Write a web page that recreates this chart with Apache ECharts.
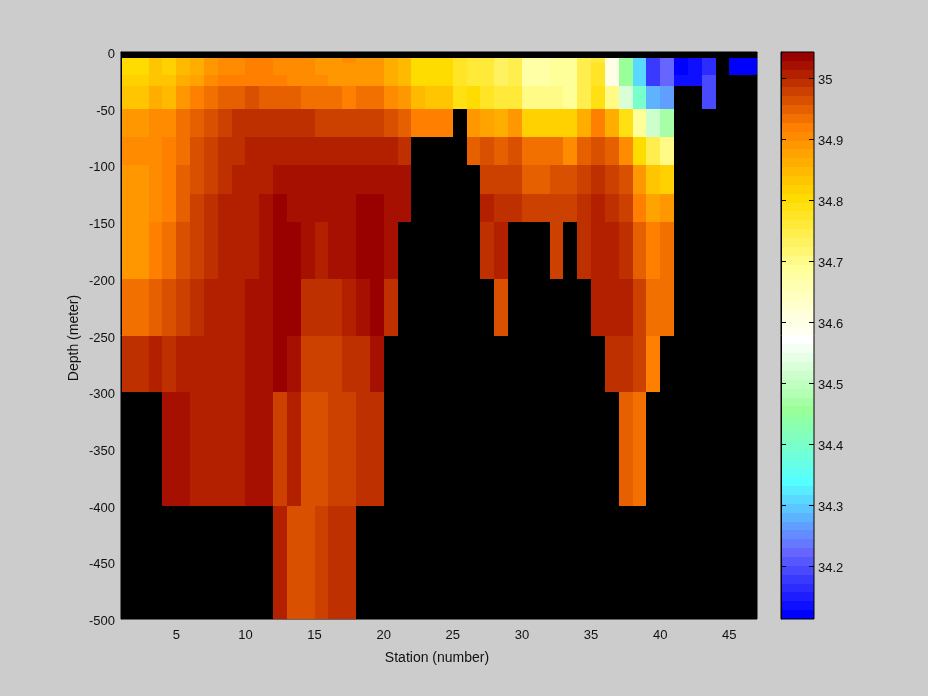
<!DOCTYPE html>
<html>
<head>
<meta charset="utf-8">
<style>html,body{margin:0;padding:0;background:#ccc}#c{width:928px;height:696px}</style>
<script src="https://cdn.jsdelivr.net/npm/echarts@6/dist/echarts.min.js"></script>
</head>
<body>
<div id="c"></div>
<script>
const _ = null;
const stationTicks = [5,10,15,20,25,30,35,40,45];
const colorTicks = [34.2,34.3,34.4,34.5,34.6,34.7,34.8,34.9,35];
const stationRange = [1,47];
const depthRange = [-500,0];
const salinityRange = [34.1136,35.0431];
const depthEdges = [-5,-10,-20,-30,-50,-75,-100,-125,-150,-200,-250,-300,-400,-500];
const d5_10 = [34.804,34.804,34.833,34.818,34.847,34.862,34.891,34.905,34.905,34.920,34.920,34.905,34.905,34.905,34.891,34.891,34.905,34.891,34.891,34.862,34.847,34.804,34.804,34.804,34.775,34.760,34.760,34.731,34.745,34.673,34.673,34.687,34.687,34.745,34.760,34.600,34.455,34.310,34.179,34.223,34.121,34.135,34.165,_,34.121,34.121];
const d10_20 = [34.804,34.804,34.833,34.818,34.847,34.862,34.891,34.905,34.905,34.920,34.920,34.905,34.905,34.905,34.891,34.891,34.891,34.891,34.891,34.862,34.847,34.804,34.804,34.804,34.775,34.760,34.760,34.731,34.745,34.673,34.673,34.687,34.687,34.745,34.775,34.600,34.455,34.310,34.179,34.223,34.121,34.135,34.165,_,34.121,34.121];
const d20_30 = [34.818,34.818,34.833,34.833,34.862,34.876,34.905,34.920,34.920,34.920,34.920,34.920,34.905,34.905,34.905,34.891,34.891,34.891,34.891,34.862,34.847,34.804,34.804,34.804,34.775,34.760,34.760,34.731,34.745,34.673,34.673,34.687,34.687,34.745,34.775,34.600,34.455,34.310,34.179,34.223,34.135,34.135,34.194,_,_,_];
const d30_50 = [34.833,34.833,34.862,34.847,34.891,34.920,34.934,34.949,34.949,34.963,34.949,34.949,34.949,34.934,34.934,34.934,34.920,34.934,34.934,34.905,34.891,34.847,34.833,34.833,34.789,34.804,34.775,34.760,34.760,34.702,34.702,34.702,34.687,34.745,34.789,34.702,34.527,34.397,34.281,34.266,_,_,34.194,_,_,_];
const d50_75 = [34.891,34.891,34.905,34.905,34.934,34.949,34.963,34.978,34.992,34.992,34.992,34.992,34.992,34.992,34.978,34.978,34.978,34.978,34.978,34.963,34.949,34.920,34.920,34.920,_,34.891,34.876,34.862,34.891,34.818,34.818,34.818,34.818,34.862,34.920,34.862,34.789,34.687,34.513,34.469,_,_,_,_,_,_];
const d75_100 = [34.905,34.905,34.905,34.920,34.934,34.963,34.978,34.992,34.992,35.007,35.007,35.007,35.007,35.007,35.007,35.007,35.007,35.007,35.007,35.007,34.992,_,_,_,_,34.949,34.963,34.949,34.963,34.934,34.934,34.934,34.905,34.949,34.963,34.949,34.905,34.804,34.745,34.702,_,_,_,_,_,_];
const d100_125 = [34.891,34.891,34.905,34.920,34.949,34.963,34.978,34.992,35.007,35.007,35.007,35.021,35.021,35.021,35.021,35.021,35.021,35.021,35.021,35.021,35.021,_,_,_,_,_,34.978,34.978,34.978,34.949,34.949,34.963,34.963,34.978,34.992,34.978,34.963,34.891,34.833,34.818,_,_,_,_,_,_];
const d125_150 = [34.891,34.891,34.905,34.920,34.949,34.978,34.992,35.007,35.007,35.007,35.021,35.036,35.021,35.021,35.021,35.021,35.021,35.036,35.036,35.021,35.021,_,_,_,_,_,35.007,34.992,34.992,34.978,34.978,34.978,34.978,34.992,35.007,34.992,34.978,34.920,34.876,34.891,_,_,_,_,_,_];
const d150_200 = [34.891,34.891,34.920,34.934,34.963,34.978,34.992,35.007,35.007,35.007,35.021,35.036,35.036,35.021,35.007,35.021,35.021,35.036,35.036,35.021,_,_,_,_,_,_,34.992,35.007,_,_,_,34.978,_,34.992,35.007,35.007,34.992,34.949,34.920,34.934,_,_,_,_,_,_];
const d200_250 = [34.934,34.934,34.949,34.963,34.978,34.992,35.007,35.007,35.007,35.021,35.021,35.036,35.036,34.992,34.992,34.992,35.007,35.021,35.036,34.992,_,_,_,_,_,_,_,34.963,_,_,_,_,_,_,35.007,35.007,35.007,34.978,34.934,34.934,_,_,_,_,_,_];
const d250_300 = [34.992,34.992,35.007,34.992,35.007,35.007,35.007,35.007,35.007,35.021,35.021,35.036,35.021,34.978,34.978,34.978,34.992,34.992,35.021,_,_,_,_,_,_,_,_,_,_,_,_,_,_,_,_,34.992,34.992,34.978,34.920,_,_,_,_,_,_,_];
const d300_400 = [_,_,_,35.021,35.021,35.007,35.007,35.007,35.007,35.021,35.021,34.978,35.007,34.963,34.963,34.978,34.978,34.992,34.992,_,_,_,_,_,_,_,_,_,_,_,_,_,_,_,_,_,34.949,34.934,_,_,_,_,_,_,_,_];
const d400_500 = [_,_,_,_,_,_,_,_,_,_,_,35.007,34.963,34.963,34.978,34.992,34.992,_,_,_,_,_,_,_,_,_,_,_,_,_,_,_,_,_,_,_,_,_,_,_,_,_,_,_,_,_];
const salinityRows = [d5_10,d10_20,d20_30,d30_50,d50_75,d75_100,d100_125,d125_150,d150_200,d200_250,d250_300,d300_400,d400_500];
const colorAnchors = [[153,0,0],[255,128,0],[255,220,0],[255,255,153],[255,255,255],[153,255,153],[85,255,255],[102,102,255]];
const colorEnd = [0,0,255];
const LEVELS = 64;

const palette = [];
for (let k = 0; k < LEVELS; k++) {
  const seg = Math.min(Math.floor(k / 8), 7), t = (k - seg * 8) / (seg === 7 ? 7 : 8);
  const a = colorAnchors[seg], b = seg === 7 ? colorEnd : colorAnchors[seg + 1];
  palette.push('rgb(' + a.map((c, i) => Math.round(c + (b[i] - c) * t)).join(',') + ')');
}
const step = (salinityRange[1] - salinityRange[0]) / LEVELS;
const colorOf = v => palette[Math.max(0, Math.min(LEVELS - 1, Math.floor((salinityRange[1] - v) / step)))];

const cells = [];
salinityRows.forEach((row, r) => row.forEach((v, c) => {
  if (v !== null) cells.push([c + 1, c + 2, depthEdges[r], depthEdges[r + 1], v]);
}));
const barCells = palette.map((_c, k) => [0, 1, salinityRange[1] - k * step, salinityRange[1] - (k + 1) * step, salinityRange[1] - (k + .5) * step]);

const renderRect = (params, api) => {
  const p0 = api.coord([api.value(0), api.value(2)]);
  const p1 = api.coord([api.value(1), api.value(3)]);
  const x = Math.round(p0[0]), y = Math.round(p0[1]);
  return {
    type: 'rect',
    shape: { x, y, width: Math.round(p1[0]) - x, height: Math.round(p1[1]) - y },
    style: { fill: colorOf(api.value(4)), stroke: null }
  };
};

const TICK_LEN = 5;
const renderBarTick = (params, api) => {
  const l = api.coord([0, api.value(0)]), r = api.coord([1, api.value(0)]);
  const y = Math.round(l[1]) + 0.5;
  const seg = (x1, x2) => ({ type: 'line', shape: { x1, y1: y, x2, y2: y }, style: { stroke: '#000', lineWidth: 1 } });
  return { type: 'group', children: [seg(l[0], l[0] + TICK_LEN), seg(r[0] - TICK_LEN, r[0])] };
};

const font = { fontFamily: '"Liberation Sans", Arial, sans-serif', fontSize: 13, color: '#111' };
const nameFont = { fontFamily: '"Liberation Sans", Arial, sans-serif', fontSize: 14, color: '#111' };
const line = { show: true, lineStyle: { color: '#000', width: 1 } };
const chart = echarts.init(document.getElementById('c'), null, { renderer: 'canvas' });
chart.setOption({
  backgroundColor: '#cccccc',
  animation: false,
  grid: [
    { left: 121, right: 171, top: 52, bottom: 77, show: true, backgroundColor: '#000', borderColor: '#000', borderWidth: 1 },
    { left: 781, right: 114, top: 52, bottom: 77, show: true, backgroundColor: 'transparent', borderColor: '#000', borderWidth: 1, z: 5 }
  ],
  xAxis: [
    { gridIndex: 0, type: 'value', min: stationRange[0], max: stationRange[1], z: 5,
      name: 'Station (number)', nameLocation: 'middle', nameGap: 32,
      nameTextStyle: Object.assign({ padding: [0, 4, 0, 0] }, nameFont),
      axisLine: line, axisTick: { show: false }, splitLine: { show: false },
      axisLabel: Object.assign({ customValues: stationTicks, margin: 10 }, font) },
    { gridIndex: 1, type: 'value', min: 0, max: 1, axisLine: { show: false }, axisTick: { show: false }, axisLabel: { show: false }, splitLine: { show: false } }
  ],
  yAxis: [
    { gridIndex: 0, type: 'value', min: depthRange[0], max: depthRange[1], interval: 50, z: 5,
      name: 'Depth (meter)', nameLocation: 'middle', nameGap: 40, nameMoveOverlap: false,
      nameTextStyle: Object.assign({ padding: [0, 5, 0, 0] }, nameFont),
      axisLine: line, axisTick: { show: false }, splitLine: { show: false },
      axisLabel: Object.assign({ margin: 6, verticalAlign: 'top', lineHeight: 5 }, font) },
    { gridIndex: 1, type: 'value', position: 'right', min: salinityRange[0], max: salinityRange[1], z: 5,
      axisLine: line, splitLine: { show: false }, axisTick: { show: false },
      axisLabel: Object.assign({ customValues: colorTicks, margin: 4, verticalAlign: 'top', lineHeight: 5, formatter: v => String(v) }, font) }
  ],
  series: [
    { type: 'custom', name: 'Salinity', xAxisIndex: 0, yAxisIndex: 0, data: cells, renderItem: renderRect, silent: true, z: 1,
      encode: { x: [0, 1], y: [2, 3] }, clip: true },
    { type: 'custom', name: 'Colorbar', xAxisIndex: 1, yAxisIndex: 1, data: barCells, renderItem: renderRect, silent: true, z: 1,
      encode: { x: [0, 1], y: [2, 3] }, clip: true },
    { type: 'custom', name: 'Colorbar ticks', xAxisIndex: 1, yAxisIndex: 1, data: colorTicks.map(v => [v]), renderItem: renderBarTick, silent: true, z: 6,
      encode: { y: 0 }, clip: false }
  ]
});
</script>
</body>
</html>
